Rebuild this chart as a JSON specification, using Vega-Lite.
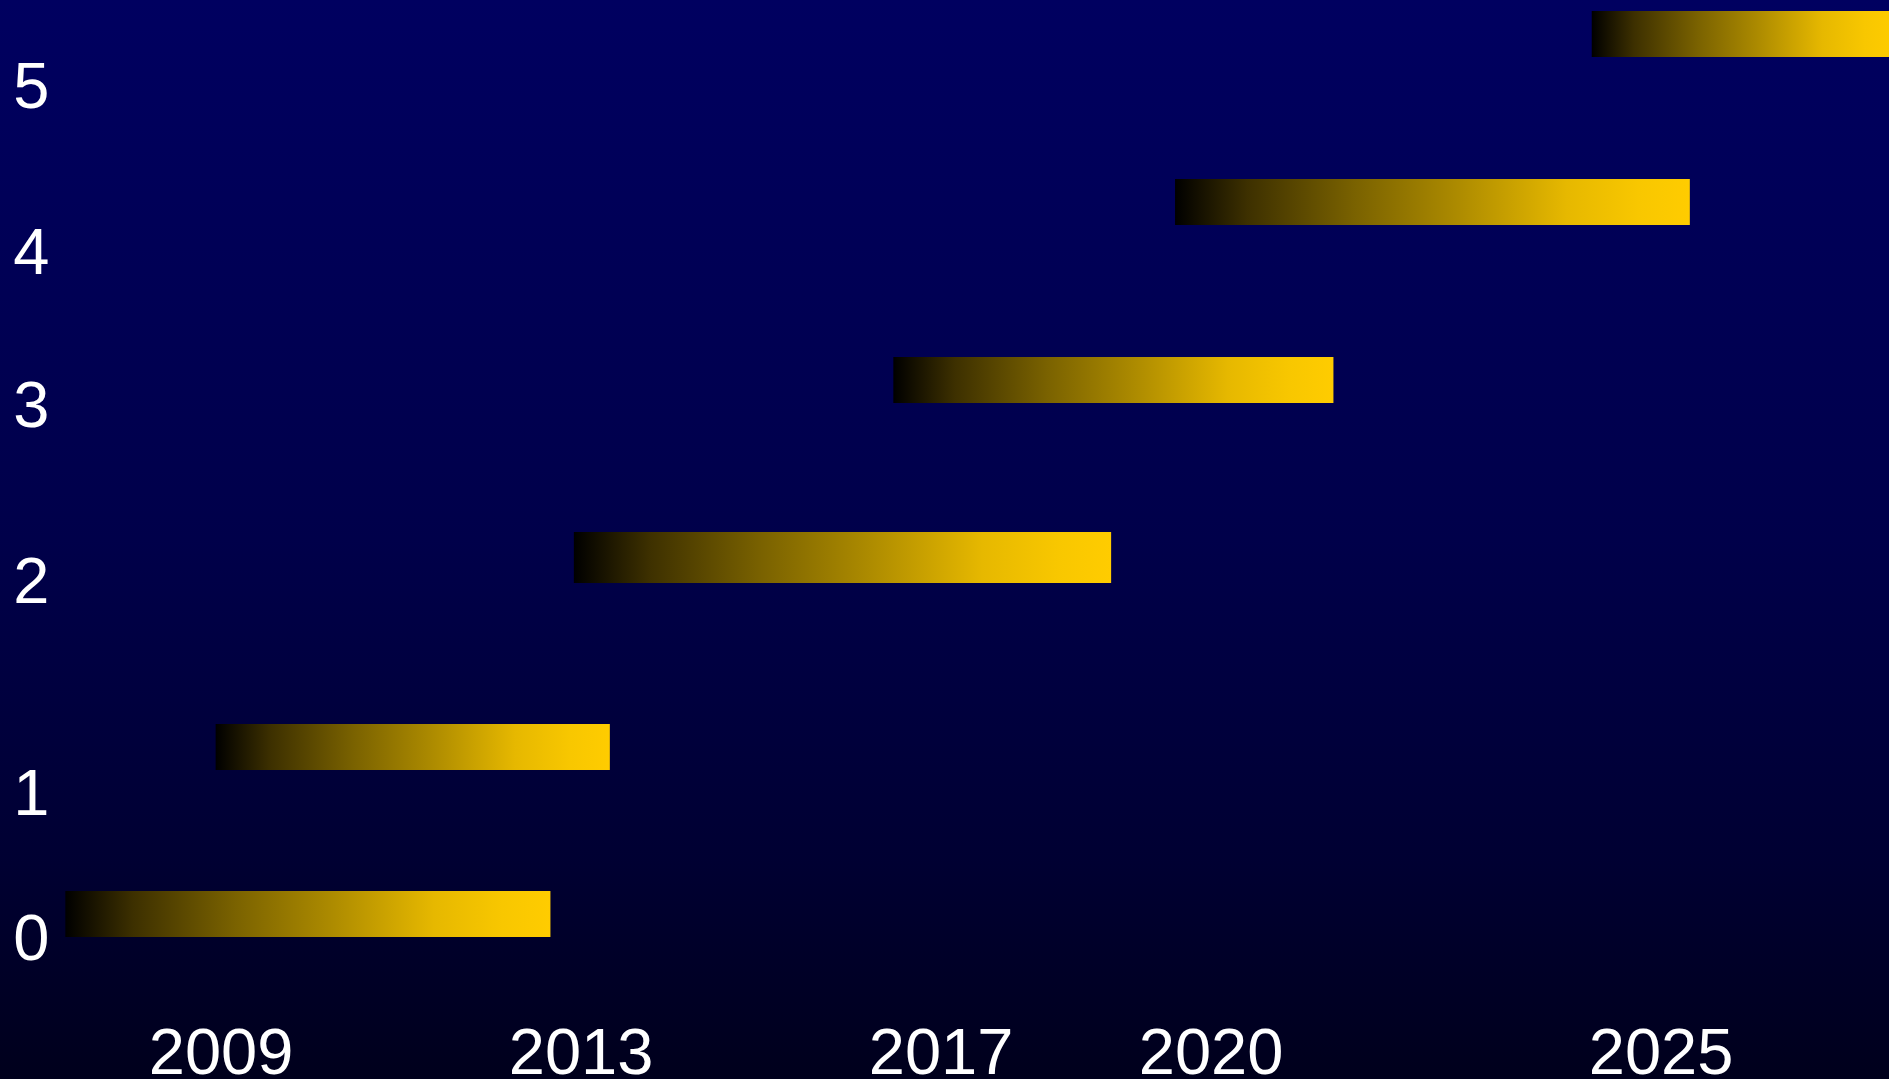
{
  "$schema": "https://vega.github.io/schema/vega-lite/v6.json",
  "width": 1889,
  "height": 1079,
  "padding": 0,
  "autosize": {"type": "none"},
  "background": "#000030",
  "view": {
    "stroke": null,
    "fill": {
      "gradient": "linear",
      "x1": 0, "y1": 0, "x2": 0, "y2": 1,
      "stops": [
        {"offset": 0, "color": "#000060"},
        {"offset": 0.5, "color": "#00004a"},
        {"offset": 0.8, "color": "#000032"},
        {"offset": 1, "color": "#00001c"}
      ]
    }
  },
  "datasets": {
    "bars": [
      {"series": "0", "start": 2007.27, "end": 2012.66, "low": -0.1307, "high": 0.1307},
      {"series": "1", "start": 2008.94, "end": 2013.32, "low": 0.8182, "high": 1.0795},
      {"series": "2", "start": 2012.92, "end": 2018.89, "low": 1.8807, "high": 2.1705},
      {"series": "3", "start": 2016.47, "end": 2021.36, "low": 2.9034, "high": 3.1648},
      {"series": "4", "start": 2019.60, "end": 2025.32, "low": 3.9148, "high": 4.1761},
      {"series": "5", "start": 2024.23, "end": 2027.60, "low": 4.8693, "high": 5.1307}
    ],
    "ylabels": [
      {"label": "0", "pos": -0.2614},
      {"label": "1", "pos": 0.5625},
      {"label": "2", "pos": 1.767},
      {"label": "3", "pos": 2.767},
      {"label": "4", "pos": 3.636},
      {"label": "5", "pos": 4.58}
    ],
    "xlabels": [
      {"year": 2009},
      {"year": 2013},
      {"year": 2017},
      {"year": 2020},
      {"year": 2025}
    ]
  },
  "layer": [
    {
      "data": {"name": "bars"},
      "mark": {
        "type": "rect",
        "clip": true,
        "color": {
          "gradient": "linear",
          "x1": 0, "y1": 0, "x2": 1, "y2": 0,
          "stops": [
            {"offset": 0, "color": "#000000"},
            {"offset": 0.14, "color": "#3d3000"},
            {"offset": 0.35, "color": "#7a6200"},
            {"offset": 0.55, "color": "#ad8b00"},
            {"offset": 0.76, "color": "#e6b800"},
            {"offset": 0.9, "color": "#f8c700"},
            {"offset": 1, "color": "#ffcc00"}
          ]
        }
      },
      "encoding": {
        "x": {"field": "start", "type": "quantitative", "scale": {"domain": [2006.544, 2027.533], "nice": false, "zero": false}, "axis": null},
        "x2": {"field": "end"},
        "y": {"field": "low", "type": "quantitative", "scale": {"domain": [-0.9375, 5.1932], "nice": false, "zero": false}, "axis": null},
        "y2": {"field": "high"}
      }
    },
    {
      "data": {"name": "ylabels"},
      "mark": {"type": "text", "align": "left", "baseline": "alphabetic", "font": "Liberation Sans", "fontSize": 65, "color": "#ffffff"},
      "encoding": {
        "x": {"datum": 2006.69, "type": "quantitative", "scale": {"domain": [2006.544, 2027.533], "nice": false, "zero": false}, "axis": null},
        "y": {"field": "pos", "type": "quantitative", "scale": {"domain": [-0.9375, 5.1932], "nice": false, "zero": false}, "axis": null},
        "text": {"field": "label"}
      }
    },
    {
      "data": {"name": "xlabels"},
      "mark": {"type": "text", "align": "center", "baseline": "alphabetic", "font": "Liberation Sans", "fontSize": 65, "color": "#ffffff"},
      "encoding": {
        "x": {"field": "year", "type": "quantitative", "scale": {"domain": [2006.544, 2027.533], "nice": false, "zero": false}, "axis": null},
        "y": {"datum": -0.9091, "type": "quantitative", "scale": {"domain": [-0.9375, 5.1932], "nice": false, "zero": false}, "axis": null},
        "text": {"field": "year", "type": "nominal"}
      }
    }
  ]
}
